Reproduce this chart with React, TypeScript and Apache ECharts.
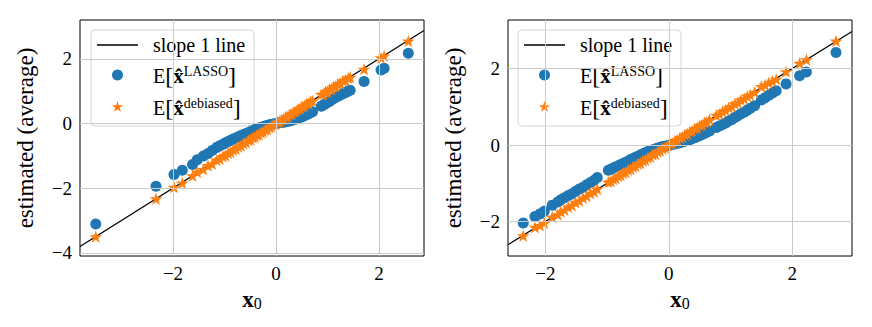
import React, { useEffect, useRef } from "react";
import * as echarts from "echarts";

// ---------- data ----------
const xTicks = [-2, 0, 2];
const yTicksLeft = [-4, -2, 0, 2];
const yTicksRight = [-2, 0, 2];
const xRangeLeft = [-3.806, 2.874];
const yRangeLeft = [-4.1, 3.2];
const xRangeRight = [-2.607, 2.969];
const yRangeRight = [-2.9, 3.27];

const x0Left = [
  -3.5, -2.33, -1.98, -1.82, -1.62, -1.53, -1.41, -1.32, -1.24, -1.15, -1.09, -1.03, -0.98, -0.93, -0.88,
  -0.83, -0.78, -0.73, -0.68, -0.63, -0.58, -0.53, -0.49, -0.45, -0.41, -0.37, -0.33, -0.29, -0.25, -0.21,
  -0.17, -0.13, -0.09, -0.05, -0.01, 0.03, 0.07, 0.11, 0.15, 0.19, 0.23, 0.27, 0.31, 0.35, 0.39, 0.43, 0.47,
  0.51, 0.55, 0.59, 0.63, 0.67, 0.71, 0.88, 0.92, 0.96, 1.0, 1.04, 1.08, 1.12, 1.16, 1.2, 1.25, 1.3, 1.35,
  1.4, 1.44, 1.71, 2.04, 2.1, 2.57,
];
const lassoLeft = [
  -3.11, -1.94, -1.58, -1.45, -1.27, -1.12, -1.01, -0.93, -0.84, -0.74, -0.69, -0.64, -0.6, -0.56, -0.52,
  -0.48, -0.45, -0.41, -0.37, -0.34, -0.31, -0.28, -0.25, -0.22, -0.19, -0.17, -0.14, -0.12, -0.1, -0.08,
  -0.06, -0.04, -0.03, -0.02, 0.0, 0.01, 0.02, 0.03, 0.04, 0.05, 0.07, 0.08, 0.1, 0.12, 0.14, 0.16, 0.19,
  0.21, 0.24, 0.27, 0.3, 0.33, 0.36, 0.53, 0.57, 0.61, 0.65, 0.69, 0.73, 0.77, 0.81, 0.84, 0.88, 0.92, 0.96,
  1.0, 1.03, 1.3, 1.65, 1.71, 2.17,
];
const debiasedLeft = [
  -3.5, -2.33, -1.97, -1.84, -1.62, -1.5, -1.42, -1.3, -1.25, -1.13, -1.1, -1.02, -0.99, -0.92, -0.89,
  -0.82, -0.79, -0.72, -0.69, -0.62, -0.59, -0.52, -0.5, -0.44, -0.42, -0.36, -0.34, -0.28, -0.26, -0.2,
  -0.18, -0.12, -0.1, -0.04, -0.02, 0.04, 0.06, 0.12, 0.14, 0.2, 0.22, 0.28, 0.3, 0.36, 0.38, 0.44, 0.46,
  0.52, 0.54, 0.6, 0.62, 0.68, 0.7, 0.9, 0.91, 0.98, 0.99, 1.06, 1.07, 1.14, 1.15, 1.22, 1.24, 1.32, 1.34,
  1.41, 1.43, 1.68, 2.03, 2.09, 2.55,
];

const x0Right = [
  -2.36, -2.17, -2.09, -2.02, -1.89, -1.8, -1.75, -1.69, -1.63, -1.57, -1.51, -1.45, -1.39, -1.33, -1.27,
  -1.21, -1.16, -0.98, -0.94, -0.9, -0.86, -0.82, -0.78, -0.74, -0.7, -0.66, -0.62, -0.58, -0.54, -0.5,
  -0.46, -0.42, -0.38, -0.34, -0.3, -0.26, -0.22, -0.18, -0.14, -0.1, -0.06, -0.02, 0.02, 0.06, 0.1, 0.14,
  0.18, 0.22, 0.26, 0.3, 0.34, 0.38, 0.42, 0.46, 0.5, 0.54, 0.58, 0.62, 0.66, 0.77, 0.82, 0.87, 0.92, 0.97,
  1.02, 1.07, 1.12, 1.17, 1.22, 1.27, 1.32, 1.39, 1.5, 1.56, 1.62, 1.68, 1.74, 1.9, 2.12, 2.23, 2.71,
];
const lassoRight = [
  -2.04, -1.87, -1.8, -1.73, -1.57, -1.49, -1.43, -1.38, -1.32, -1.27, -1.21, -1.15, -1.1, -1.04, -0.98,
  -0.92, -0.85, -0.66, -0.63, -0.6, -0.57, -0.54, -0.51, -0.48, -0.45, -0.42, -0.38, -0.35, -0.32, -0.29,
  -0.26, -0.23, -0.2, -0.17, -0.14, -0.12, -0.1, -0.08, -0.06, -0.04, -0.03, -0.01, 0.0, 0.02, 0.03, 0.05,
  0.06, 0.08, 0.1, 0.12, 0.14, 0.17, 0.19, 0.22, 0.25, 0.28, 0.31, 0.34, 0.37, 0.46, 0.5, 0.54, 0.58, 0.63,
  0.67, 0.72, 0.77, 0.82, 0.86, 0.91, 0.96, 1.03, 1.18, 1.24, 1.3, 1.36, 1.42, 1.6, 1.81, 1.91, 2.42,
];
const debiasedRight = [
  -2.37, -2.15, -2.1, -2.04, -1.88, -1.82, -1.74, -1.7, -1.62, -1.58, -1.5, -1.46, -1.38, -1.34, -1.26,
  -1.22, -1.15, -0.97, -0.95, -0.89, -0.87, -0.81, -0.79, -0.73, -0.71, -0.65, -0.63, -0.57, -0.55, -0.49,
  -0.47, -0.41, -0.39, -0.33, -0.31, -0.25, -0.23, -0.17, -0.15, -0.09, -0.07, -0.01, 0.03, 0.05, 0.11,
  0.13, 0.19, 0.21, 0.27, 0.29, 0.35, 0.37, 0.43, 0.45, 0.51, 0.53, 0.59, 0.61, 0.67, 0.78, 0.81, 0.88,
  0.91, 0.98, 1.01, 1.08, 1.11, 1.18, 1.21, 1.28, 1.31, 1.38, 1.53, 1.57, 1.63, 1.67, 1.72, 1.92, 2.14,
  2.23, 2.72,
];

// ---------- styling ----------
const FONT = "Liberation Serif";
const BLUE = "#1f77b4";
const ORANGE = "#ff7f0e";
const GRID_COLOR = "#cbcbcb";
const STAR =
  "path://M100 0L122.45 69.1L195.1 69.1L136.3 111.8L158.8 180.9L100 138.2L41.2 180.9L63.7 111.8L4.9 69.1L77.55 69.1Z";

const fmt = (v: number) => (v < 0 ? "\u2212" + Math.abs(v) : String(v));

function starPoints(cx: number, cy: number, r: number) {
  const pts: number[][] = [];
  for (let i = 0; i < 10; i++) {
    const a = -Math.PI / 2 + (i * Math.PI) / 5;
    const rr = i % 2 === 0 ? r : r * 0.382;
    pts.push([cx + rr * Math.cos(a), cy + rr * Math.sin(a)]);
  }
  return pts;
}

const richText = {
  a: { fontFamily: FONT, fontSize: 20, color: "#000", lineHeight: 24 },
  br: { fontFamily: FONT, fontSize: 24, color: "#000", lineHeight: 24 },
  b: { fontFamily: FONT, fontSize: 21, fontWeight: "bold", color: "#000", lineHeight: 24 },
  s: { fontFamily: FONT, fontSize: 14, color: "#000", lineHeight: 13, verticalAlign: "top" },
};

function legendGroup(left: number) {
  return {
    type: "group",
    x: left,
    y: 30,
    z: 100,
    children: [
      {
        type: "rect",
        shape: { x: 0, y: 0, width: 163, height: 96, r: 4 },
        style: { fill: "rgba(255,255,255,0.8)", stroke: "#d4d4d4", lineWidth: 1 },
      },
      {
        type: "line",
        shape: { x1: 6, y1: 15, x2: 47, y2: 15 },
        style: { stroke: "#000", lineWidth: 1.4 },
      },
      { type: "text", x: 62, y: 15, style: { text: "slope 1 line", font: `20px "${FONT}"`, fill: "#000", verticalAlign: "middle" } },
      { type: "circle", shape: { cx: 26.5, cy: 45, r: 5.5 }, style: { fill: BLUE } },
      {
        type: "text",
        x: 62,
        y: 46,
        style: {
          text: "{a|E}{br|[}{b|x\u0302}{s|LASSO}{br|]}",
          rich: richText,
          verticalAlign: "middle",
        },
      },
      { type: "polygon", shape: { points: starPoints(26.5, 77, 6) }, style: { fill: ORANGE } },
      {
        type: "text",
        x: 62,
        y: 78,
        style: {
          text: "{a|E}{br|[}{b|x\u0302}{s|debiased}{br|]}",
          rich: richText,
          verticalAlign: "middle",
        },
      },
    ],
  };
}

function axesFor(idx: number, xr: number[], yr: number[], yTicks: number[]) {
  const xAxis = {
    type: "value",
    gridIndex: idx,
    min: xr[0],
    max: xr[1],
    splitLine: { show: false },
    axisLine: { show: false },
    axisTick: { show: true, customValues: xTicks, length: 4, lineStyle: { color: "#000", width: 1 } },
    axisLabel: { customValues: xTicks, formatter: fmt, fontFamily: FONT, fontSize: 19, color: "#000", margin: 8 },
    name: "{b|x}{s|0}",
    nameLocation: "middle",
    nameGap: 30,
    nameTextStyle: {
      rich: {
        b: { fontFamily: FONT, fontSize: 23, fontWeight: "bold", color: "#000", lineHeight: 24 },
        s: { fontFamily: FONT, fontSize: 16, color: "#000", lineHeight: 15, verticalAlign: "bottom" },
      },
    },
  };
  const yAxis = {
    type: "value",
    gridIndex: idx,
    min: yr[0],
    max: yr[1],
    splitLine: { show: false },
    axisLine: { show: false },
    axisTick: { show: true, customValues: yTicks, length: 4, lineStyle: { color: "#000", width: 1 } },
    axisLabel: { customValues: yTicks, formatter: fmt, fontFamily: FONT, fontSize: 19, color: "#000", margin: 8 },
    name: "estimated (average)",
    nameLocation: "middle",
    nameGap: 43,
    nameTextStyle: { fontFamily: FONT, fontSize: 23, color: "#000" },
  };
  return { xAxis, yAxis };
}

function seriesFor(idx: number, xr: number[], yTicks: number[], x0: number[], lasso: number[], deb: number[]) {
  return [
    {
      type: "line",
      xAxisIndex: idx,
      yAxisIndex: idx,
      data: [],
      z: 1,
      silent: true,
      markLine: {
        silent: true,
        symbol: ["none", "none"],
        label: { show: false },
        lineStyle: { color: GRID_COLOR, width: 1, type: "solid" },
        emphasis: { disabled: true },
        data: [...xTicks.map((v) => ({ xAxis: v })), ...yTicks.map((v) => ({ yAxis: v }))],
      },
    },
    {
      name: "slope 1 line",
      type: "line",
      xAxisIndex: idx,
      yAxisIndex: idx,
      data: xr.map((v) => [v, v]),
      symbol: "none",
      z: 2,
      lineStyle: { color: "#000", width: 1.3 },
      silent: true,
    },
    {
      name: "lasso",
      type: "scatter",
      xAxisIndex: idx,
      yAxisIndex: idx,
      data: x0.map((x, i) => [x, lasso[i]]),
      symbol: "circle",
      symbolSize: 11,
      itemStyle: { color: BLUE, opacity: 1 },
      z: 3,
      silent: true,
    },
    {
      name: "debiased",
      type: "scatter",
      xAxisIndex: idx,
      yAxisIndex: idx,
      data: x0.map((x, i) => [x, deb[i]]),
      symbol: STAR,
      symbolKeepAspect: true,
      symbolSize: 13,
      itemStyle: { color: ORANGE, opacity: 1 },
      z: 4,
      silent: true,
    },
  ];
}

export default function App() {
  const ref = useRef<HTMLDivElement>(null);
  useEffect(() => {
    if (!ref.current) return;
    const chart = echarts.init(ref.current, undefined, { renderer: "svg" });
    const a0 = axesFor(0, xRangeLeft, yRangeLeft, yTicksLeft);
    const a1 = axesFor(1, xRangeRight, yRangeRight, yTicksRight);
    chart.setOption({
      animation: false,
      backgroundColor: "#fff",
      grid: [
        { left: 80, top: 20, width: 344, height: 236, show: true, borderColor: "#000", borderWidth: 1, backgroundColor: "transparent", containLabel: false },
        { left: 508, top: 20, width: 344, height: 236, show: true, borderColor: "#000", borderWidth: 1, backgroundColor: "transparent", containLabel: false },
      ],
      xAxis: [a0.xAxis, a1.xAxis],
      yAxis: [a0.yAxis, a1.yAxis],
      series: [
        ...seriesFor(0, xRangeLeft, yTicksLeft, x0Left, lassoLeft, debiasedLeft),
        ...seriesFor(1, xRangeRight, yTicksRight, x0Right, lassoRight, debiasedRight),
      ],
      graphic: [legendGroup(91), legendGroup(518)],
    });
    return () => chart.dispose();
  }, []);
  return <div ref={ref} style={{ position: "absolute", left: 0, top: 0, width: 872, height: 327 }} />;
}
